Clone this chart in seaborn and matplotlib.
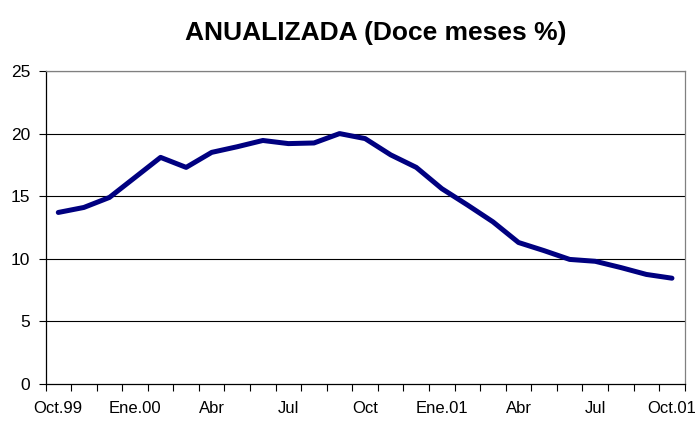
import numpy as np
import pandas as pd
import matplotlib
matplotlib.use("Agg")
import matplotlib.pyplot as plt
import seaborn as sns

# Monthly series, Oct.99 - Oct.01
months = ["Oct99", "Nov99", "Dic99", "Ene00", "Feb00", "Mar00", "Abr00", "May00",
          "Jun00", "Jul00", "Ago00", "Sep00", "Oct00", "Nov00", "Dic00", "Ene01",
          "Feb01", "Mar01", "Abr01", "May01", "Jun01", "Jul01", "Ago01", "Sep01", "Oct01"]
values = [13.7, 14.1, 14.9, 16.5, 18.1, 17.3, 18.5, 18.95, 19.45, 19.2, 19.25, 20.0,
          19.6, 18.3, 17.3, 15.6, 14.3, 12.95, 11.3, 10.65, 9.95, 9.8, 9.3, 8.75, 8.45]
tick_labels = ["Oct.99", "Ene.00", "Abr", "Jul", "Oct", "Ene.01", "Abr", "Jul", "Oct.01"]
y_ticks = [0, 5, 10, 15, 20, 25]

sns.set_theme(style="white")
plt.rcParams['font.family'] = ['Liberation Sans', 'DejaVu Sans']
plt.rcParams['text.color'] = 'black'
plt.rcParams['xtick.labelcolor'] = 'black'
plt.rcParams['ytick.labelcolor'] = 'black'

df = pd.DataFrame({"idx": np.arange(len(months)), "valor": values})

fig = plt.figure(figsize=(6.98, 4.21), dpi=100)
ax = fig.add_axes([0.0652, 0.0879, 0.9158, 0.7435])

for yv in y_ticks[1:]:
    ax.axhline(yv, color="black", linewidth=0.8, zorder=1)

sns.lineplot(data=df, x="idx", y="valor", ax=ax, color="#000080", linewidth=3.6,
             solid_capstyle="round", solid_joinstyle="round", zorder=3)

ax.set_xlim(-0.5, len(months) - 0.5)
ax.set_ylim(0, 25)
ax.set_yticks(y_ticks)
ax.set_yticklabels([str(v) for v in y_ticks], fontsize=12.5, color="black")

ax.set_xticks(np.arange(0, len(months), 3))
ax.set_xticklabels(tick_labels, fontsize=12, color="black")
ax.set_xticks(np.arange(-0.5, len(months)), minor=True)
ax.tick_params(axis="x", which="major", length=0, pad=12.5)
ax.tick_params(axis="x", which="minor", length=5, width=0.8, color="black", direction="out", bottom=True)
ax.tick_params(axis="y", which="major", length=5, width=0.8, color="black", direction="out", left=True, pad=6)

ax.set_xlabel("")
ax.set_ylabel("")

for side in ["left", "bottom"]:
    ax.spines[side].set_color("black")
    ax.spines[side].set_linewidth(0.9)
for side in ["top", "right"]:
    ax.spines[side].set_color("#808080")
    ax.spines[side].set_linewidth(0.9)

fig.text(0.539, 0.905, "ANUALIZADA (Doce meses %)", fontsize=19, fontweight="bold",
         color="black", ha="center", va="baseline")

fig.savefig("out.png", dpi=100)
